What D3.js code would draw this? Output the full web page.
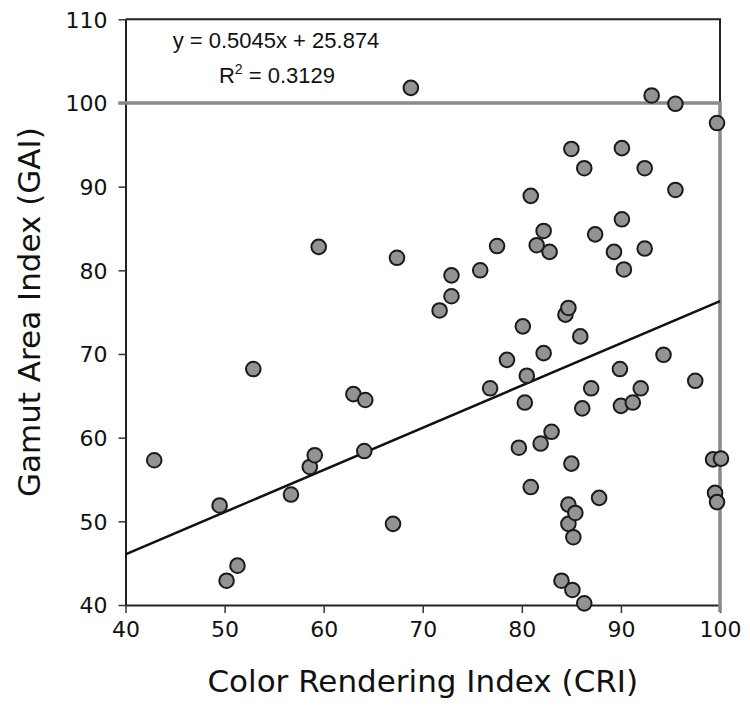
<!DOCTYPE html>
<html>
<head>
<meta charset="utf-8" />
<script src="https://d3js.org/d3.v7.min.js"></script>
<style>
body { margin: 0; background: #fff; }
.tick text { font-family: Verdana, "DejaVu Sans", sans-serif; font-size: 22px; fill: #111; }
.title { font-family: Verdana, "DejaVu Sans", sans-serif; font-size: 31px; fill: #111; }
.eq { font-family: Arial, "Liberation Sans", sans-serif; font-size: 22px; fill: #111; }
</style>
</head>
<body>
<script>
// CRI / GAI pairs
var cri = [42.9, 49.5, 50.2, 51.3, 52.9, 56.7, 58.6, 59.1, 59.5, 63.0,
           64.2, 64.1, 67.0, 67.4, 68.8, 71.7, 72.9, 72.9, 75.8, 76.8,
           77.5, 78.5, 79.7, 80.1, 80.3, 80.5, 80.9, 80.9, 81.5, 81.9,
           82.2, 82.2, 82.8, 83.0, 84.0, 84.4, 84.7, 84.7, 84.7, 85.1,
           85.0, 85.0, 85.2, 85.4, 85.9, 86.1, 86.3, 86.3, 87.0, 87.4,
           87.8, 89.3, 89.9, 90.0, 90.1, 90.1, 90.3, 91.2, 92.0, 92.4,
           92.4, 93.1, 94.3, 95.5, 95.5, 97.5, 99.3, 100.1, 99.5, 99.7,
           99.7];
var gai = [57.3, 51.9, 42.9, 44.7, 68.2, 53.2, 56.5, 57.9, 82.8, 65.2,
           64.5, 58.4, 49.7, 81.5, 101.8, 75.2, 76.9, 79.4, 80.0, 65.9,
           82.9, 69.3, 58.8, 73.3, 64.2, 67.4, 54.1, 88.9, 83.0, 59.3,
           84.7, 70.1, 82.2, 60.7, 42.9, 74.7, 75.5, 52.0, 49.7, 41.8,
           56.9, 94.5, 48.1, 51.0, 72.1, 63.5, 40.2, 92.2, 65.9, 84.3,
           52.8, 82.2, 68.2, 63.8, 94.6, 86.1, 80.1, 64.2, 65.9, 92.2,
           82.6, 100.9, 69.9, 99.9, 89.6, 66.8, 57.4, 57.5, 53.4, 52.3,
           97.6];
var xTicks = [40, 50, 60, 70, 80, 90, 100];
var yTicks = [40, 50, 60, 70, 80, 90, 100, 110];
var slope = 0.5045, intercept = 25.874;
var eqLine = "y = 0.5045x + 25.874";
var r2Value = "0.3129";

var width = 750, height = 707;
var svg = d3.select("body").append("svg")
    .attr("width", width)
    .attr("height", height);

var x = d3.scaleLinear().domain([40, 100]).range([125.5, 720]);
var y = d3.scaleLinear().domain([40, 110]).range([605, 19.3]);

// axes
var xAxis = svg.append("g")
    .attr("transform", "translate(0," + y(40) + ")")
    .call(d3.axisBottom(x).tickValues(xTicks).tickSize(8).tickSizeOuter(0).tickPadding(8));
var yAxis = svg.append("g")
    .attr("transform", "translate(" + x(40) + ",0)")
    .call(d3.axisLeft(y).tickValues(yTicks).tickSize(7).tickSizeOuter(0).tickPadding(11));

[xAxis, yAxis].forEach(function(a) {
  a.select(".domain").attr("stroke", "#222").attr("stroke-width", 2);
  a.selectAll(".tick line").attr("stroke", "#333").attr("stroke-width", 1.5);
  a.selectAll(".tick text").attr("font-size", null).attr("font-family", null);
});
yAxis.selectAll(".tick text").attr("dy", "0.36em");

// top and right border of the frame
svg.append("path")
    .attr("d", "M" + x(40) + "," + y(110) + "H" + x(100) + "V" + y(100))
    .attr("fill", "none").attr("stroke", "#222").attr("stroke-width", 2);

// grey reference lines at 100
svg.append("path")
    .attr("d", "M" + (x(40) - 7) + "," + y(100) + "H" + x(100) + "V" + (y(40) + 7))
    .attr("fill", "none").attr("stroke", "#8a8a8a").attr("stroke-width", 3.5);

// trendline
svg.append("line")
    .attr("x1", x(40)).attr("y1", y(slope * 40 + intercept))
    .attr("x2", x(100)).attr("y2", y(slope * 100 + intercept))
    .attr("stroke", "#111").attr("stroke-width", 2.5);

// points
svg.append("g").selectAll("circle")
    .data(d3.range(cri.length))
  .enter().append("circle")
    .attr("cx", function(i) { return x(cri[i]); })
    .attr("cy", function(i) { return y(gai[i]); })
    .attr("r", 7.3)
    .attr("fill", "#939393")
    .attr("stroke", "#1a1a1a")
    .attr("stroke-width", 2);

// equation
svg.append("text").attr("class", "eq")
    .attr("x", 276).attr("y", 48)
    .attr("text-anchor", "middle")
    .text(eqLine);
var r2 = svg.append("text").attr("class", "eq")
    .attr("x", 277).attr("y", 83)
    .attr("text-anchor", "middle");
r2.append("tspan").text("R");
r2.append("tspan").attr("font-size", "14px").attr("dy", "-9").text("2");
r2.append("tspan").attr("dy", "9").text(" = " + r2Value);

// axis titles
svg.append("text").attr("class", "title")
    .attr("x", (x(40) + x(100)) / 2).attr("y", 692)
    .attr("text-anchor", "middle")
    .text("Color Rendering Index (CRI)");
svg.append("text").attr("class", "title")
    .attr("transform", "translate(40," + (y(40) + y(110)) / 2 + ") rotate(-90)")
    .attr("text-anchor", "middle")
    .text("Gamut Area Index (GAI)");
</script>
</body>
</html>
